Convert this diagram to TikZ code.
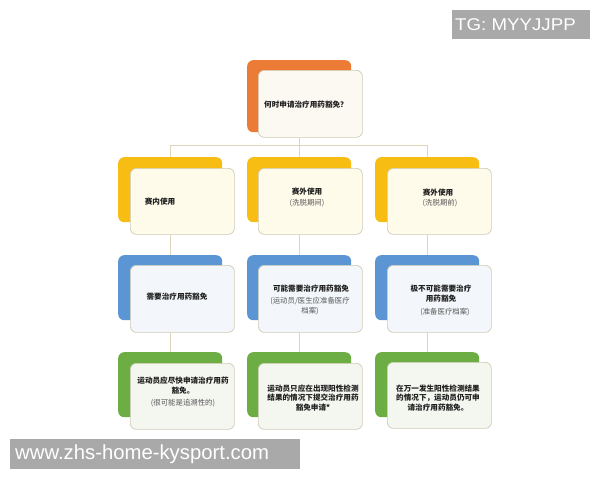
\documentclass[tikz,border=0pt]{standalone}
\usepackage{fontspec}
\setmainfont{Liberation Sans}
\newfontfamily\cjk{Noto Sans CJK SC}
\definecolor{orangec}{HTML}{EC7B36}
\definecolor{yellowc}{HTML}{F7BD12}
\definecolor{bluec}{HTML}{5B95D4}
\definecolor{greenc}{HTML}{6CAE44}
\definecolor{frontO}{HTML}{FCF8F2}
\definecolor{frontY}{HTML}{FFFBEB}
\definecolor{frontB}{HTML}{F3F6FA}
\definecolor{frontG}{HTML}{F4F6F0}
\definecolor{bordc}{HTML}{CFCBB6}
\definecolor{connc}{HTML}{DCD6BA}
\definecolor{wmgray}{HTML}{A9A9A9}
\begin{document}
\begin{tikzpicture}[x=1pt,y=-1pt,
  back/.style={rounded corners=6pt, minimum width=104pt, minimum height=65pt, inner sep=0pt, anchor=north west},
  front/.style={rounded corners=6pt, draw=bordc, line width=0.7pt, minimum width=104pt, minimum height=66pt, inner sep=0pt, anchor=north west},
  lbl/.style={font=\cjk\bfseries\fontsize{7.6}{9.8}\selectfont, text=black!88, align=center, inner sep=0pt},
  sublbl/.style={font=\cjk\fontsize{7.4}{9.8}\selectfont, text=black!65, align=center, inner sep=0pt},
  conn/.style={draw=connc, line width=0.7pt},
  wmbox/.style={fill=wmgray, inner sep=0pt, anchor=north west},
  wmtext/.style={text=white, inner sep=0pt, anchor=west}]
\path[use as bounding box, fill=white] (0,0) rectangle (600,480);
% top
\node[back, fill=orangec, minimum height=72pt] (b0) at (247,60) {};
\node[front, fill=frontO, minimum height=67pt] (f0) at (258,70) {};
% row 2
\node[back, fill=yellowc] (b1) at (118,157) {};
\node[back, fill=yellowc] (b2) at (247,157) {};
\node[back, fill=yellowc] (b3) at (375,157) {};
\node[front, fill=frontY] (f1) at (130,168) {};
\node[front, fill=frontY] (f2) at (258,168) {};
\node[front, fill=frontY] (f3) at (387,168) {};
% row 3
\node[back, fill=bluec] (b4) at (118,255) {};
\node[back, fill=bluec] (b5) at (247,255) {};
\node[back, fill=bluec] (b6) at (375,255) {};
\node[front, fill=frontB, minimum height=67pt] (f4) at (130,265) {};
\node[front, fill=frontB, minimum height=67pt] (f5) at (258,265) {};
\node[front, fill=frontB, minimum height=67pt] (f6) at (387,265) {};
% row 4
\node[back, fill=greenc] (b7) at (118,352) {};
\node[back, fill=greenc] (b8) at (247,352) {};
\node[back, fill=greenc] (b9) at (375,352) {};
\node[front, fill=frontG] (f7) at (130,363) {};
\node[front, fill=frontG] (f8) at (258,363) {};
\node[front, fill=frontG] (f9) at (387,362) {};
% connectors
\coordinate (j) at (299,145);
\draw[conn] (b0.center |- f0.south) -- (b0.center |- j);
\draw[conn] (b1.center |- j) -- (b3.center |- j);
\draw[conn] (b1.center |- j) -- (b1.north);
\draw[conn] (b2.center |- j) -- (b2.north);
\draw[conn] (b3.center |- j) -- (b3.north);
\draw[conn] (b1.center |- f1.south) -- (b4.north);
\draw[conn] (b2.center |- f2.south) -- (b5.north);
\draw[conn] (b3.center |- f3.south) -- (b6.north);
\draw[conn] (b4.center |- f4.south) -- (b7.north);
\draw[conn] (b5.center |- f5.south) -- (b8.north);
\draw[conn] (b6.center |- f6.south) -- (b9.north);
% texts
\node[lbl] (t0) at (306,105) {何时申请治疗用药豁免？};
\node[lbl] (t1) at (160,202) {赛内使用};
\node[lbl] (t2a) at (307,192) {赛外使用};
\node[sublbl] (t2b) at (307,203) {(洗脱期间)};
\node[lbl] (t3a) at (438,193) {赛外使用};
\node[sublbl] (t3b) at (440,203) {(洗脱期前)};
\node[lbl] (t4) at (177,297) {需要治疗用药豁免};
\node[lbl] (t5a) at (311,289) {可能需要治疗用药豁免};
\node[sublbl] (t5b) at (310,306) {(运动员/医生应准备医疗\\档案)};
\node[lbl] (t6a) at (441,294) {极不可能需要治疗\\用药豁免};
\node[sublbl] (t6b) at (445,312) {(准备医疗档案)};
\node[lbl] (t7a) at (183,385.5) {运动员应尽快申请治疗用药\\豁免。};
\node[sublbl] (t7b) at (183,403) {(很可能是追溯性的)};
\node[lbl] (t8) at (313,398) {运动员只应在出现阳性检测\\结果的情况下提交治疗用药\\豁免申请*};
\node[lbl] (t9) at (438,398) {在万一发生阳性检测结果\\的情况下，运动员仍可申\\请治疗用药豁免。};
% watermarks
\node[wmbox, minimum width=138pt, minimum height=29pt] (wm1) at (452,10) {};
\node[wmtext, font=\fontsize{17}{20}\selectfont] (wm1t) at (455,24.5) {\scalebox{1.1}[1]{TG: MYYJJPP}};
\node[wmbox, minimum width=290pt, minimum height=30pt] (wm2) at (10,439) {};
\node[wmtext, font=\fontsize{20.3}{23}\selectfont] (wm2t) at (15,454) {www.zhs-home-kysport.com};
\end{tikzpicture}
\end{document}
